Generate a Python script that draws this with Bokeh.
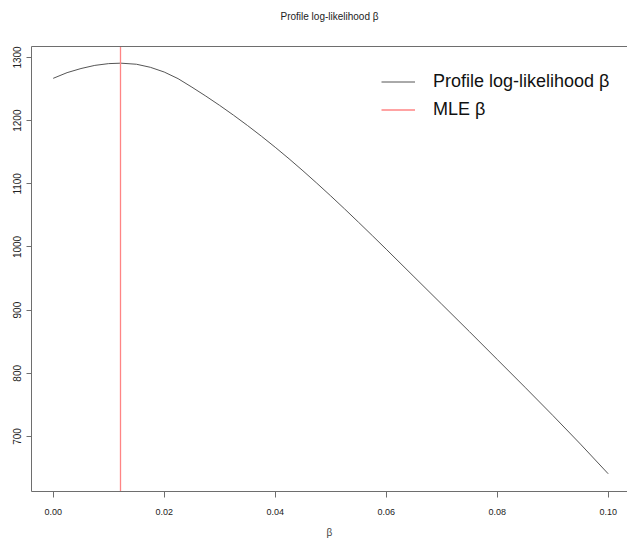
from bokeh.plotting import figure
from bokeh.models import Range1d, LinearAxis, FixedTicker, Legend, LegendItem
from bokeh.embed import file_html
from bokeh.resources import INLINE

# ---- data ----
beta = [0.0000, 0.0025, 0.0050, 0.0075, 0.0100, 0.0122, 0.0150, 0.0175, 0.0200,
        0.0225, 0.0250, 0.0275, 0.0300, 0.0325, 0.0350, 0.0375, 0.0400, 0.0425,
        0.0450, 0.0475, 0.0500, 0.0525, 0.0550, 0.0575, 0.0600, 0.0650, 0.0700,
        0.0750, 0.0800, 0.0850, 0.0900, 0.0950, 0.1000]
loglik = [1267, 1276, 1282.5, 1287.5, 1290.3, 1291, 1289.3, 1284.5, 1277,
          1266.5, 1253, 1238.9, 1224.1, 1208.6, 1192.4, 1175.5, 1157.9, 1139.6,
          1120.6, 1101, 1080.9, 1060.3, 1039.3, 1018, 996.5, 953, 909.5,
          866, 822, 778, 733.5, 688, 641]
mle_beta = [0.0122]
x_ticks = [0.00, 0.02, 0.04, 0.06, 0.08, 0.10]
x_tick_labels = ["0.00", "0.02", "0.04", "0.06", "0.08", "0.10"]
y_ticks = [700, 800, 900, 1000, 1100, 1200, 1300]

FONT = "'Liberation Sans', Arial, sans-serif"
AXIS_COLOR = "#6e6e6e"

p = figure(width=627, height=542, output_backend="svg", toolbar_location=None,
           x_range=Range1d(-0.00391, 0.10348), y_range=Range1d(612.9, 1317.4),
           min_border_left=31, min_border_top=46, min_border_bottom=51,
           min_border_right=0, title="Profile log-likelihood β")

p.outline_line_color = None
p.grid.visible = False
p.background_fill_color = "white"
p.border_fill_color = "white"

p.title.align = "center"
p.title.text_font = FONT
p.title.text_font_size = "10px"
p.title.text_font_style = "normal"
p.title.text_color = "#222222"
p.title.standoff = 0

# x axis
xa = p.xaxis[0]
xa.ticker = FixedTicker(ticks=x_ticks)
xa.major_label_overrides = {t: l for t, l in zip(x_ticks, x_tick_labels)}
xa.axis_label = "β"
xa.axis_label_text_font = FONT
xa.axis_label_text_font_size = "10px"
xa.axis_label_text_font_style = "normal"
xa.axis_label_standoff = 9
xa.major_label_text_font = FONT
xa.major_label_text_font_size = "9px"
xa.major_label_standoff = 11
xa.major_tick_out = 6
xa.major_tick_in = 0
xa.minor_tick_line_color = None
xa.axis_line_color = AXIS_COLOR
xa.major_tick_line_color = AXIS_COLOR
xa.major_label_text_color = "#222222"

# y axis
ya = p.yaxis[0]
ya.ticker = FixedTicker(ticks=y_ticks)
ya.major_label_orientation = "vertical"
ya.major_label_text_font = FONT
ya.major_label_text_font_size = "10px"
ya.major_label_standoff = 5
ya.major_tick_out = 5
ya.major_tick_in = 0
ya.minor_tick_line_color = None
ya.axis_line_color = AXIS_COLOR
ya.major_tick_line_color = AXIS_COLOR
ya.major_label_text_color = "#222222"

# top border of the box; a blank, invisible axis label spaces the title up
top = LinearAxis(ticker=FixedTicker(ticks=[]), major_label_text_font_size="0px",
                 major_tick_out=0, major_tick_in=0, minor_tick_out=0, minor_tick_in=0,
                 major_tick_line_color=None, minor_tick_line_color=None,
                 axis_line_color=AXIS_COLOR,
                 axis_label=" ", axis_label_text_font_size="18px",
                 axis_label_text_color=None, axis_label_standoff=2)
p.add_layout(top, "above")

curve = p.line(beta, loglik, line_color="#555555", line_width=1)
mle = p.vspan(x=mle_beta, line_color="#ff8585", line_width=1.3)

legend = Legend(items=[LegendItem(label="Profile log-likelihood β", renderers=[curve]),
                       LegendItem(label="MLE β", renderers=[mle])],
                location=(350, 371))
legend.border_line_color = None
legend.background_fill_alpha = 0
legend.label_text_font = FONT
legend.label_text_font_size = "18px"
legend.label_text_color = "#111111"
legend.glyph_width = 34
legend.glyph_height = 21
legend.label_height = 21
legend.label_standoff = 18
legend.spacing = 7
legend.padding = 0
legend.margin = 0
p.add_layout(legend)

open("out.html", "w").write(file_html(p, INLINE))
